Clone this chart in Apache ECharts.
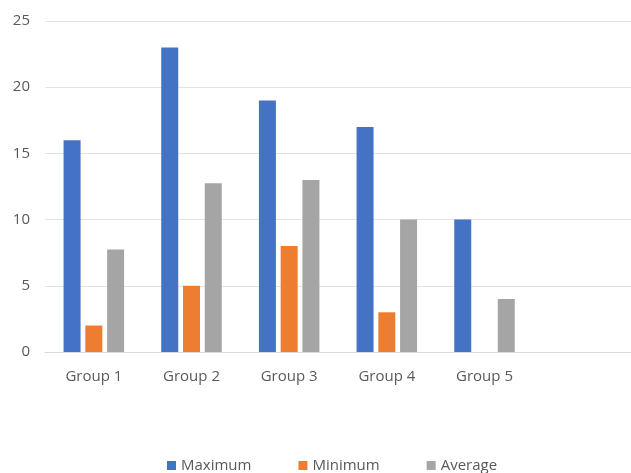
<!DOCTYPE html>
<html>
<head>
<meta charset="utf-8">
<script src="https://cdn.jsdelivr.net/npm/echarts@6/dist/echarts.min.js"></script>
<style>
html,body{margin:0;padding:0;background:#fff;}
#c{width:631px;height:473px;}
</style>
</head>
<body>
<div id="c"></div>
<script>
var categories = ['Group 1', 'Group 2', 'Group 3', 'Group 4', 'Group 5', ''];
var maximum = [16, 23, 19, 17, 10, null];
var minimum = [2, 5, 8, 3, null, null];
var average = [7.75, 12.75, 13, 10, 4, null];
var yTicks = [0, 5, 10, 15, 20, 25];

var chart = echarts.init(document.getElementById('c'), null, {renderer: 'canvas'});
var font = '"Open Sans", "Liberation Sans", sans-serif';
var bw = 17;
chart.setOption({
  animation: false,
  textStyle: {fontFamily: font},
  grid: {left: 45, right: -8, top: 21, bottom: 121, containLabel: false},
  legend: {
    top: 453,
    left: 162,
    itemWidth: 9, itemHeight: 9, itemGap: 47,
    icon: 'rect',
    textStyle: {color: '#595959', fontSize: 15, fontFamily: font},
    data: ['Maximum', 'Minimum', 'Average']
  },
  xAxis: {
    type: 'category',
    data: categories,
    axisLine: {lineStyle: {color: '#D9D9D9', width: 1}},
    axisTick: {show: false},
    axisLabel: {color: '#595959', fontSize: 15, margin: 17, fontFamily: font}
  },
  yAxis: {
    type: 'value',
    min: yTicks[0], max: yTicks[yTicks.length - 1], interval: 5,
    axisLine: {show: false},
    axisTick: {show: false},
    splitLine: {lineStyle: {color: '#E3E3E3', width: 1}},
    axisLabel: {color: '#595959', fontSize: 15, margin: 15, fontFamily: font}
  },
  series: [
    {name: 'Maximum', type: 'bar', data: maximum, barWidth: bw, barGap: '28%', itemStyle: {color: '#4472C4'}},
    {name: 'Minimum', type: 'bar', data: minimum, barWidth: bw, barGap: '28%', itemStyle: {color: '#ED7D31'}},
    {name: 'Average', type: 'bar', data: average, barWidth: bw, barGap: '28%', itemStyle: {color: '#A5A5A5'}}
  ]
});
</script>
</body>
</html>
